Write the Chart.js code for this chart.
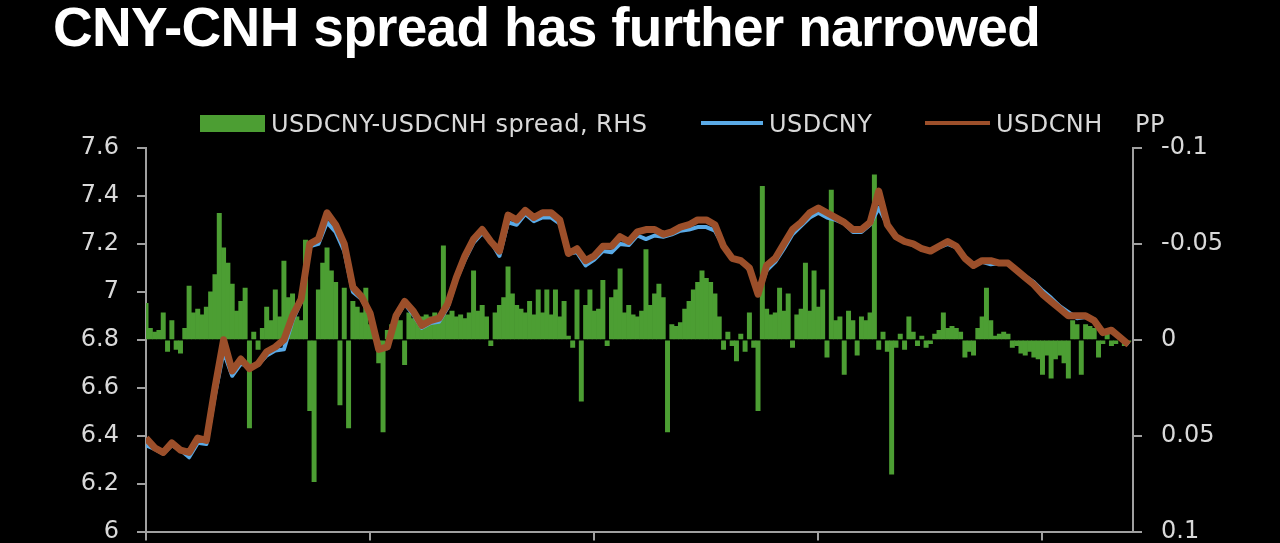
<!DOCTYPE html>
<html>
<head>
<meta charset="utf-8">
<title>CNY-CNH spread</title>
<script src="https://cdn.jsdelivr.net/npm/chart.js@4.4.1/dist/chart.umd.min.js"></script>
<style>
  html, body { margin: 0; padding: 0; background: #000; }
  #wrap { position: relative; width: 1280px; height: 543px; overflow: hidden; background: #000; }
  #title { position: absolute; left: 53px; top: 0; font: bold 55px 'Liberation Sans', Arial, sans-serif;
           line-height: 55px; color: #fff; letter-spacing: -0.7px; white-space: nowrap; }
  .lg { position: absolute; top: 112px; font: 24px 'DejaVu Sans', sans-serif; line-height: 24px;
        color: #d9d9d9; white-space: nowrap; letter-spacing: 0.45px; }
  .sw { position: absolute; }
  canvas { position: absolute; left: 0; top: 0; }
</style>
</head>
<body>
<div id="wrap">
  <canvas id="chart" width="1280" height="565"></canvas>
  <div id="title">CNY-CNH spread has further narrowed</div>
  <div class="sw" style="left:200px;top:115px;width:65px;height:17px;background:#4c9e33"></div>
  <div class="lg" style="left:271px">USDCNY-USDCNH spread, RHS</div>
  <div class="sw" style="left:701px;top:121px;width:62px;height:4px;background:#5aaae6"></div>
  <div class="lg" style="left:769px">USDCNY</div>
  <div class="sw" style="left:925px;top:121px;width:65px;height:4px;background:#9c4f2a"></div>
  <div class="lg" style="left:996px">USDCNH</div>
  <div class="lg" style="left:1135px">PP</div>
</div>
<script>
// weekly data from the first week of 2022, ticks mark the start of each year
var yearTicks = [0, 52, 104, 156, 208];

// USDCNY - USDCNH, weekly (right axis, reversed)
var spreadValues = [
  -0.019, -0.006, -0.004, -0.005, -0.014, 0.006, -0.010, 0.005, 0.007, -0.006,
  -0.028, -0.014, -0.016, -0.013, -0.017, -0.025, -0.034, -0.066, -0.048, -0.040,
  -0.029, -0.015, -0.020, -0.027, 0.046, -0.004, 0.005, -0.006, -0.017, -0.010,
  -0.026, -0.012, -0.041, -0.022, -0.024, -0.012, -0.010, -0.052, 0.037, 0.074,
  -0.026, -0.040, -0.048, -0.036, -0.030, 0.034, -0.027, 0.046, -0.020, -0.017,
  -0.014, -0.027, -0.008, -0.006, 0.012, 0.048, -0.005, -0.008, -0.012, -0.010,
  0.013, -0.014, -0.011, -0.010, -0.012, -0.013, -0.012, -0.014, -0.012, -0.049,
  -0.013, -0.015, -0.012, -0.013, -0.011, -0.014, -0.036, -0.015, -0.018, -0.012,
  0.003, -0.014, -0.018, -0.022, -0.038, -0.024, -0.018, -0.016, -0.014, -0.020,
  -0.013, -0.026, -0.014, -0.026, -0.013, -0.026, -0.012, -0.020, -0.002, 0.004,
  -0.026, 0.032, -0.018, -0.026, -0.015, -0.016, -0.031, 0.003, -0.022, -0.026,
  -0.037, -0.014, -0.018, -0.013, -0.012, -0.015, -0.047, -0.018, -0.024, -0.029,
  -0.022, 0.048, -0.008, -0.007, -0.009, -0.016, -0.020, -0.026, -0.030, -0.036,
  -0.032, -0.030, -0.024, -0.012, 0.005, -0.004, 0.003, 0.011, -0.003, 0.006,
  -0.014, 0.004, 0.037, -0.080, -0.016, -0.013, -0.014, -0.027, -0.015, -0.024,
  0.004, -0.013, -0.016, -0.040, -0.015, -0.036, -0.017, -0.026, 0.009, -0.078,
  -0.010, -0.012, 0.018, -0.015, -0.010, 0.008, -0.012, -0.010, -0.014, -0.086,
  0.005, -0.004, 0.006, 0.070, 0.004, -0.003, 0.005, -0.012, -0.004, 0.003,
  -0.002, 0.004, 0.002, -0.003, -0.005, -0.014, -0.006, -0.007, -0.006, -0.004,
  0.009, 0.006, 0.008, -0.006, -0.012, -0.027, -0.010, -0.002, -0.003, -0.004,
  -0.003, 0.004, 0.003, 0.007, 0.008, 0.006, 0.009, 0.010, 0.018, 0.008,
  0.020, 0.010, 0.008, 0.012, 0.020, -0.010, -0.008, 0.018, -0.008, -0.007,
  -0.006, 0.009, 0.002, -0.003, 0.003, 0.002, -0.002, 0.003, 0.001
];

// fortnightly closes (left axis)
var cnyValues = [
  6.36, 6.345, 6.325, 6.36, 6.34, 6.31, 6.37, 6.365, 6.57, 6.75,
  6.65, 6.70, 6.69, 6.695, 6.735, 6.755, 6.76, 6.88, 6.96, 7.19,
  7.20, 7.29, 7.25, 7.17, 7.00, 6.97, 6.90, 6.77, 6.765, 6.89,
  6.95, 6.905, 6.85, 6.87, 6.875, 6.935, 7.05, 7.135, 7.205, 7.245,
  7.21, 7.15, 7.29, 7.28, 7.325, 7.295, 7.31, 7.31, 7.285, 7.16,
  7.165, 7.11, 7.135, 7.17, 7.165, 7.20, 7.195, 7.235, 7.22, 7.235,
  7.23, 7.24, 7.255, 7.26, 7.27, 7.27, 7.255, 7.19, 7.14, 7.13,
  7.09, 6.99, 7.09, 7.125, 7.18, 7.24, 7.275, 7.31, 7.33, 7.31,
  7.30, 7.285, 7.25, 7.25, 7.28, 7.35, 7.28, 7.23, 7.21, 7.195,
  7.18, 7.17, 7.185, 7.20, 7.185, 7.145, 7.115, 7.125, 7.115, 7.12,
  7.115, 7.09, 7.065, 7.04, 7.005, 6.975, 6.94, 6.915, 6.89, 6.895,
  6.885, 6.83, 6.84, 6.81, 6.78
];

var cnhValues = [
  6.39, 6.35, 6.33, 6.37, 6.34, 6.33, 6.39, 6.38, 6.60, 6.80,
  6.67, 6.72, 6.68, 6.70, 6.75, 6.77, 6.80, 6.90, 6.97, 7.20,
  7.22, 7.33, 7.28, 7.20, 7.02, 6.98, 6.91, 6.76, 6.77, 6.90,
  6.96, 6.92, 6.86, 6.88, 6.89, 6.95, 7.06, 7.15, 7.22, 7.26,
  7.21, 7.17, 7.32, 7.30, 7.34, 7.31, 7.33, 7.33, 7.30, 7.16,
  7.18, 7.13, 7.15, 7.19, 7.19, 7.23, 7.21, 7.25, 7.26, 7.26,
  7.24, 7.25, 7.27, 7.28, 7.30, 7.30, 7.28, 7.19, 7.14, 7.13,
  7.10, 6.99, 7.11, 7.14, 7.20, 7.26, 7.29, 7.33, 7.35, 7.33,
  7.31, 7.29, 7.26, 7.26, 7.29, 7.42, 7.28, 7.23, 7.21, 7.20,
  7.18, 7.17, 7.19, 7.21, 7.19, 7.14, 7.11, 7.13, 7.13, 7.12,
  7.12, 7.09, 7.06, 7.03, 6.99, 6.96, 6.93, 6.90, 6.90, 6.90,
  6.88, 6.83, 6.84, 6.81, 6.78
];

var axisColor = '#a0a0a0';
var labelColor = '#d9d9d9';
var tickFont = { family: 'DejaVu Sans', size: 24 };

function fmt(v) { return String(+Number(v).toFixed(2)); }

var ctx = document.getElementById('chart').getContext('2d');
var chart = new Chart(ctx, {
  type: 'line',
  data: {
    datasets: [
      {
        type: 'bar',
        label: 'USDCNY-USDCNH spread, RHS',
        data: spreadValues.map(function (v, j) { return { x: j, y: v }; }),
        yAxisID: 'y1',
        backgroundColor: '#4c9e33',
        borderWidth: 0,
        barPercentage: 1,
        categoryPercentage: 1,
        order: 3
      },
      {
        label: 'USDCNY',
        data: cnyValues.map(function (v, i) { return { x: i * 2, y: v }; }),
        yAxisID: 'y',
        borderColor: '#5aaae6',
        borderWidth: 4,
        borderJoinStyle: 'round',
        pointRadius: 0,
        order: 2
      },
      {
        label: 'USDCNH',
        data: cnhValues.map(function (v, i) { return { x: i * 2, y: v }; }),
        yAxisID: 'y',
        borderColor: '#9c4f2a',
        borderWidth: 7,
        borderJoinStyle: 'round',
        pointRadius: 0,
        order: 1
      }
    ]
  },
  options: {
    responsive: false,
    animation: false,
    layout: { padding: { top: 148, left: 0, right: 0, bottom: 0 } },
    plugins: { legend: { display: false }, tooltip: { enabled: false } },
    scales: {
      x: {
        type: 'linear',
        offset: false,
        min: 0,
        max: 229,
        afterBuildTicks: function (s) { s.ticks = yearTicks.map(function (v) { return { value: v }; }); },
        afterFit: function (s) { s.height = 13; },
        ticks: { display: false },
        grid: { drawOnChartArea: false, offset: false, tickLength: 9, color: axisColor, lineWidth: 2 },
        border: { color: axisColor, width: 2 }
      },
      y: {
        position: 'left',
        min: 6,
        max: 7.6,
        afterFit: function (s) { s.width = 146; },
        ticks: { stepSize: 0.2, padding: 18, color: labelColor, font: tickFont, callback: fmt },
        grid: { drawOnChartArea: false, tickLength: 9, color: axisColor, lineWidth: 2 },
        border: { color: axisColor, width: 2 }
      },
      y1: {
        position: 'right',
        reverse: true,
        min: -0.1,
        max: 0.1,
        afterFit: function (s) { s.width = 147; },
        ticks: { stepSize: 0.05, padding: 19, color: labelColor, font: tickFont, callback: fmt },
        grid: { drawOnChartArea: false, tickLength: 9, color: axisColor, lineWidth: 2 },
        border: { color: axisColor, width: 2 }
      }
    }
  }
});
</script>
</body>
</html>
